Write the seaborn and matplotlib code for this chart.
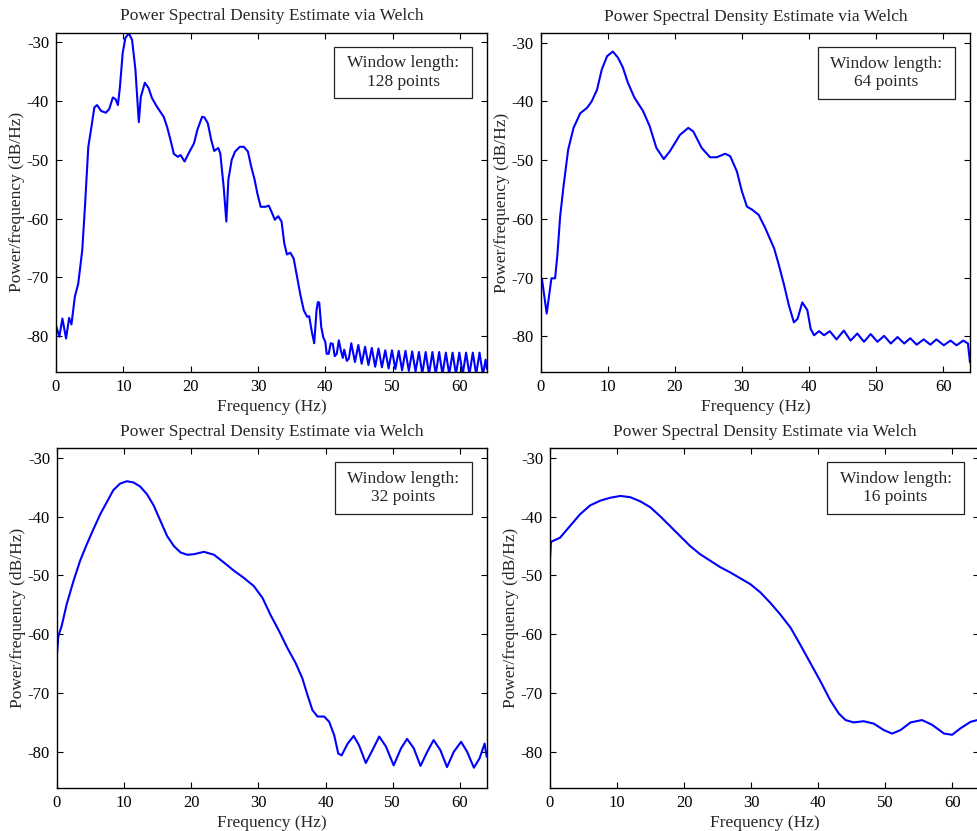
import matplotlib
matplotlib.use('Agg')
import matplotlib.pyplot as plt
import seaborn as sns
from matplotlib.patches import Rectangle

# ── Data ──────────────────────────────────────────────────────────────────
# window length 128
f128 = [0, 0.5, 0.95, 1.5, 1.95, 2.3, 2.8, 3.3, 3.9, 4.3,
        4.8, 5.2, 5.7, 6.1, 6.7, 7.4, 7.9, 8.45, 8.85, 9.2,
        9.5, 9.9, 10.3, 10.8, 11.3, 11.8, 12.3, 12.6, 13.2, 13.75,
        14.25, 15.0, 16.0, 16.5, 17.0, 17.5, 18.1, 18.5, 19.1, 19.7,
        20.5, 21.0, 21.7, 22.05, 22.55, 23.05, 23.5, 24.1, 24.4, 24.9,
        25.3, 25.6, 26.1, 26.6, 27.3, 27.9, 28.5, 29.0, 29.5, 29.9,
        30.4, 31.1, 31.6, 32.1, 32.5, 33.0, 33.5, 33.9, 34.3, 34.8,
        35.3, 35.8, 36.3, 36.8, 37.3, 37.6, 38.0, 38.35, 38.7, 38.9,
        39.1, 39.4, 39.7, 40.0, 40.2, 40.5, 40.8, 41.1, 41.4, 41.7,
        42.0, 42.3, 42.6, 42.8, 43.2, 43.5, 43.85, 44.4, 44.9, 45.4,
        45.9, 46.4, 46.9, 47.4, 47.9, 48.4, 48.9, 49.4, 49.9, 50.4,
        50.9, 51.4, 51.9, 52.4, 52.9, 53.4, 53.9, 54.4, 54.9, 55.4,
        55.9, 56.4, 56.9, 57.4, 57.9, 58.4, 58.9, 59.4, 59.9, 60.4,
        60.9, 61.4, 61.9, 62.4, 62.9, 63.4, 63.8, 64.0]
p128 = [-78.2, -80.1, -77.0, -80.4, -76.9, -78.0, -73.3, -71.1, -65.4, -58.0,
        -47.8, -44.9, -41.1, -40.7, -41.7, -42.0, -41.4, -39.4, -39.7, -40.7,
        -37.6, -31.9, -29.3, -28.5, -29.6, -34.7, -43.6, -39.3, -36.9, -37.8,
        -39.5, -41.0, -42.7, -44.4, -46.6, -49.0, -49.5, -49.2, -50.3, -48.9,
        -47.2, -44.9, -42.7, -42.8, -43.8, -46.6, -48.5, -48.0, -48.9, -54.6,
        -60.5, -53.4, -50.0, -48.6, -47.8, -47.8, -48.6, -51.2, -53.4, -55.7,
        -58.0, -58.0, -57.8, -59.1, -60.2, -59.6, -60.5, -64.2, -66.1, -65.8,
        -66.8, -69.9, -73.0, -75.6, -76.7, -76.6, -79.3, -81.2, -75.5, -74.2,
        -74.3, -78.5, -80.2, -81.0, -83.0, -83.0, -81.2, -81.3, -83.4, -83.0,
        -80.7, -82.4, -83.7, -82.3, -84.2, -83.8, -81.2, -84.4, -81.5, -84.7,
        -81.8, -84.9, -82.0, -85.2, -82.1, -85.3, -82.4, -85.5, -82.4, -85.6,
        -82.5, -85.8, -82.5, -85.9, -82.6, -86.0, -82.7, -86.4, -82.7, -86.5,
        -82.7, -86.5, -82.7, -86.5, -82.8, -86.5, -82.8, -86.5, -82.8, -86.5,
        -82.8, -86.5, -82.8, -86.5, -82.8, -86.6, -84.0, -85.6]

# window length 64
f64 = [0, 0.2, 0.9, 1.6, 2.15, 2.5, 2.9, 3.4, 4.1, 4.9,
       5.9, 6.9, 7.6, 8.4, 9.1, 9.9, 10.75, 11.5, 12.25, 13.0,
       14.0, 15.25, 16.25, 17.25, 18.35, 19.25, 20.75, 22.0, 22.75, 24.0,
       25.25, 26.25, 27.5, 28.25, 29.25, 30.0, 30.75, 31.5, 32.5, 33.5,
       34.8, 35.5, 36.3, 37.0, 37.75, 38.3, 39.0, 39.75, 40.25, 40.75,
       41.5, 42.25, 43.1, 44.1, 45.2, 46.2, 47.2, 48.2, 49.2, 50.2,
       51.2, 52.2, 53.2, 54.2, 55.1, 56.05, 57.1, 58.1, 59.0, 60.1,
       61.1, 62.0, 63.0, 63.7, 64.0]
p64 = [-71.5, -70.3, -76.1, -70.1, -70.1, -66.0, -59.6, -54.5, -48.2, -44.5,
       -42.0, -41.1, -40.0, -38.0, -34.6, -32.3, -31.5, -32.5, -34.2, -36.8,
       -39.4, -41.6, -44.2, -47.9, -49.8, -48.5, -45.7, -44.5, -45.1, -47.9,
       -49.5, -49.5, -48.9, -49.3, -51.9, -55.3, -57.9, -58.4, -59.3, -61.6,
       -65.0, -67.8, -71.3, -74.7, -77.6, -77.0, -74.2, -75.5, -78.7, -79.8,
       -79.1, -79.8, -79.1, -80.5, -79.0, -80.7, -79.5, -80.9, -79.6, -80.9,
       -79.9, -81.2, -80.1, -81.2, -80.3, -81.4, -80.5, -81.4, -80.5, -81.5,
       -80.7, -81.5, -80.7, -81.2, -84.4]

# window length 32
f32 = [0, 0.2, 0.7, 1.45, 2.45, 3.45, 4.45, 5.45, 6.45, 7.4,
       8.4, 9.4, 10.4, 11.4, 12.4, 13.4, 14.4, 15.4, 16.4, 17.4,
       18.4, 19.4, 20.4, 21.9, 23.4, 24.85, 26.35, 27.8, 29.3, 30.6,
       31.8, 33.1, 34.3, 35.55, 36.55, 37.3, 38.05, 38.8, 39.8, 40.55,
       41.3, 41.9, 42.4, 43.3, 44.2, 45.0, 46.0, 47.0, 48.0, 49.0,
       50.15, 51.25, 52.15, 53.15, 54.15, 55.15, 56.1, 57.1, 58.1, 59.1,
       60.2, 61.1, 62.1, 62.95, 63.7, 64.0]
p32 = [-63.5, -60.4, -58.6, -54.9, -51.0, -47.5, -44.7, -42.1, -39.6, -37.6,
       -35.5, -34.4, -34.0, -34.2, -34.9, -36.2, -38.1, -40.7, -43.3, -45.0,
       -46.1, -46.5, -46.4, -46.0, -46.5, -47.8, -49.2, -50.4, -51.8, -53.8,
       -56.7, -59.5, -62.3, -64.9, -67.5, -70.3, -72.9, -74.0, -74.0, -74.9,
       -77.2, -80.3, -80.6, -78.6, -77.3, -78.9, -81.9, -79.7, -77.4, -79.1,
       -82.3, -79.4, -77.8, -79.4, -82.4, -80.0, -78.0, -79.7, -82.6, -80.0,
       -78.3, -80.0, -82.7, -81.1, -78.6, -80.8]

# window length 16
f16 = [0, 0.15, 1.5, 3.0, 4.5, 6.0, 7.5, 9.0, 10.5, 11.95,
       13.45, 14.95, 16.4, 17.9, 19.4, 20.9, 22.4, 23.9, 25.4, 26.9,
       28.4, 29.9, 31.4, 32.9, 34.4, 35.9, 37.35, 38.85, 40.35, 41.8,
       43.1, 44.1, 45.3, 46.8, 48.3, 49.8, 51.05, 52.3, 53.8, 55.5,
       57.0, 58.8, 60.0, 61.25, 62.75, 63.75, 64.0]
p16 = [-47.3, -44.3, -43.6, -41.6, -39.6, -38.1, -37.3, -36.8, -36.5, -36.7,
       -37.4, -38.4, -39.9, -41.6, -43.3, -45.0, -46.4, -47.5, -48.6, -49.5,
       -50.5, -51.5, -52.9, -54.7, -56.7, -58.9, -61.8, -64.9, -68.0, -71.2,
       -73.5, -74.6, -75.0, -74.8, -75.2, -76.3, -76.9, -76.3, -75.0, -74.6,
       -75.4, -76.9, -77.1, -76.0, -74.9, -74.6, -74.7]

window_lengths = [128, 64, 32, 16]
xticks = [0, 10, 20, 30, 40, 50, 60]
yticks = [-80, -70, -60, -50, -40, -30]

# ── Style ─────────────────────────────────────────────────────────────────
sns.set_style('ticks')
plt.rcParams['font.family'] = ['Liberation Serif', 'DejaVu Serif']
plt.rcParams['axes.unicode_minus'] = False
plt.rcParams['font.size'] = 12.5

fig = plt.figure(figsize=(9.77, 8.31), dpi=100)

# MATLAB-like 2x2 subplot layout (bottom-right is cropped on the right)
positions = [
    [0.0573, 0.5523, 0.4411, 0.4083],
    [0.5534, 0.5520, 0.4394, 0.4079],
    [0.0583, 0.0521, 0.4398, 0.4084],
    [0.5629, 0.0521, 0.4391, 0.4084],
]
series = [(f128, p128), (f64, p64), (f32, p32), (f16, p16)]

for pos, (f, p), n in zip(positions, series, window_lengths):
    ax = fig.add_axes(pos)
    sns.lineplot(x=f, y=p, ax=ax, color='blue', lw=1.5,
                 sort=False, estimator=None)
    ax.set_xlim(0, 64)
    ax.set_ylim(-86.1, -28.4)
    ax.set_xticks(xticks)
    ax.set_yticks(yticks)
    ax.tick_params(direction='in', top=True, right=True, length=4,
                   width=0.8, labelsize=12, pad=5, colors='black')
    for s in ax.spines.values():
        s.set_linewidth(1.0)
        s.set_color('black')
        s.set_visible(True)
    ax.set_title('Power Spectral Density Estimate via Welch', fontsize=12.5, pad=9)
    ax.set_xlabel('Frequency (Hz)', fontsize=12.5, labelpad=3)
    ax.set_ylabel('Power/frequency (dB/Hz)', fontsize=12.5, labelpad=1)

    # text box in the upper right corner
    ax.add_patch(Rectangle((0.646, 0.807), 0.319, 0.152, transform=ax.transAxes,
                           facecolor='white', edgecolor='#222222', lw=0.9, zorder=5))
    ax.text(0.8055, 0.883, f'Window length:\n{n} points', transform=ax.transAxes,
            ha='center', va='center', linespacing=1.22, fontsize=12.5, zorder=6)

fig.savefig('out.png', dpi=100)
